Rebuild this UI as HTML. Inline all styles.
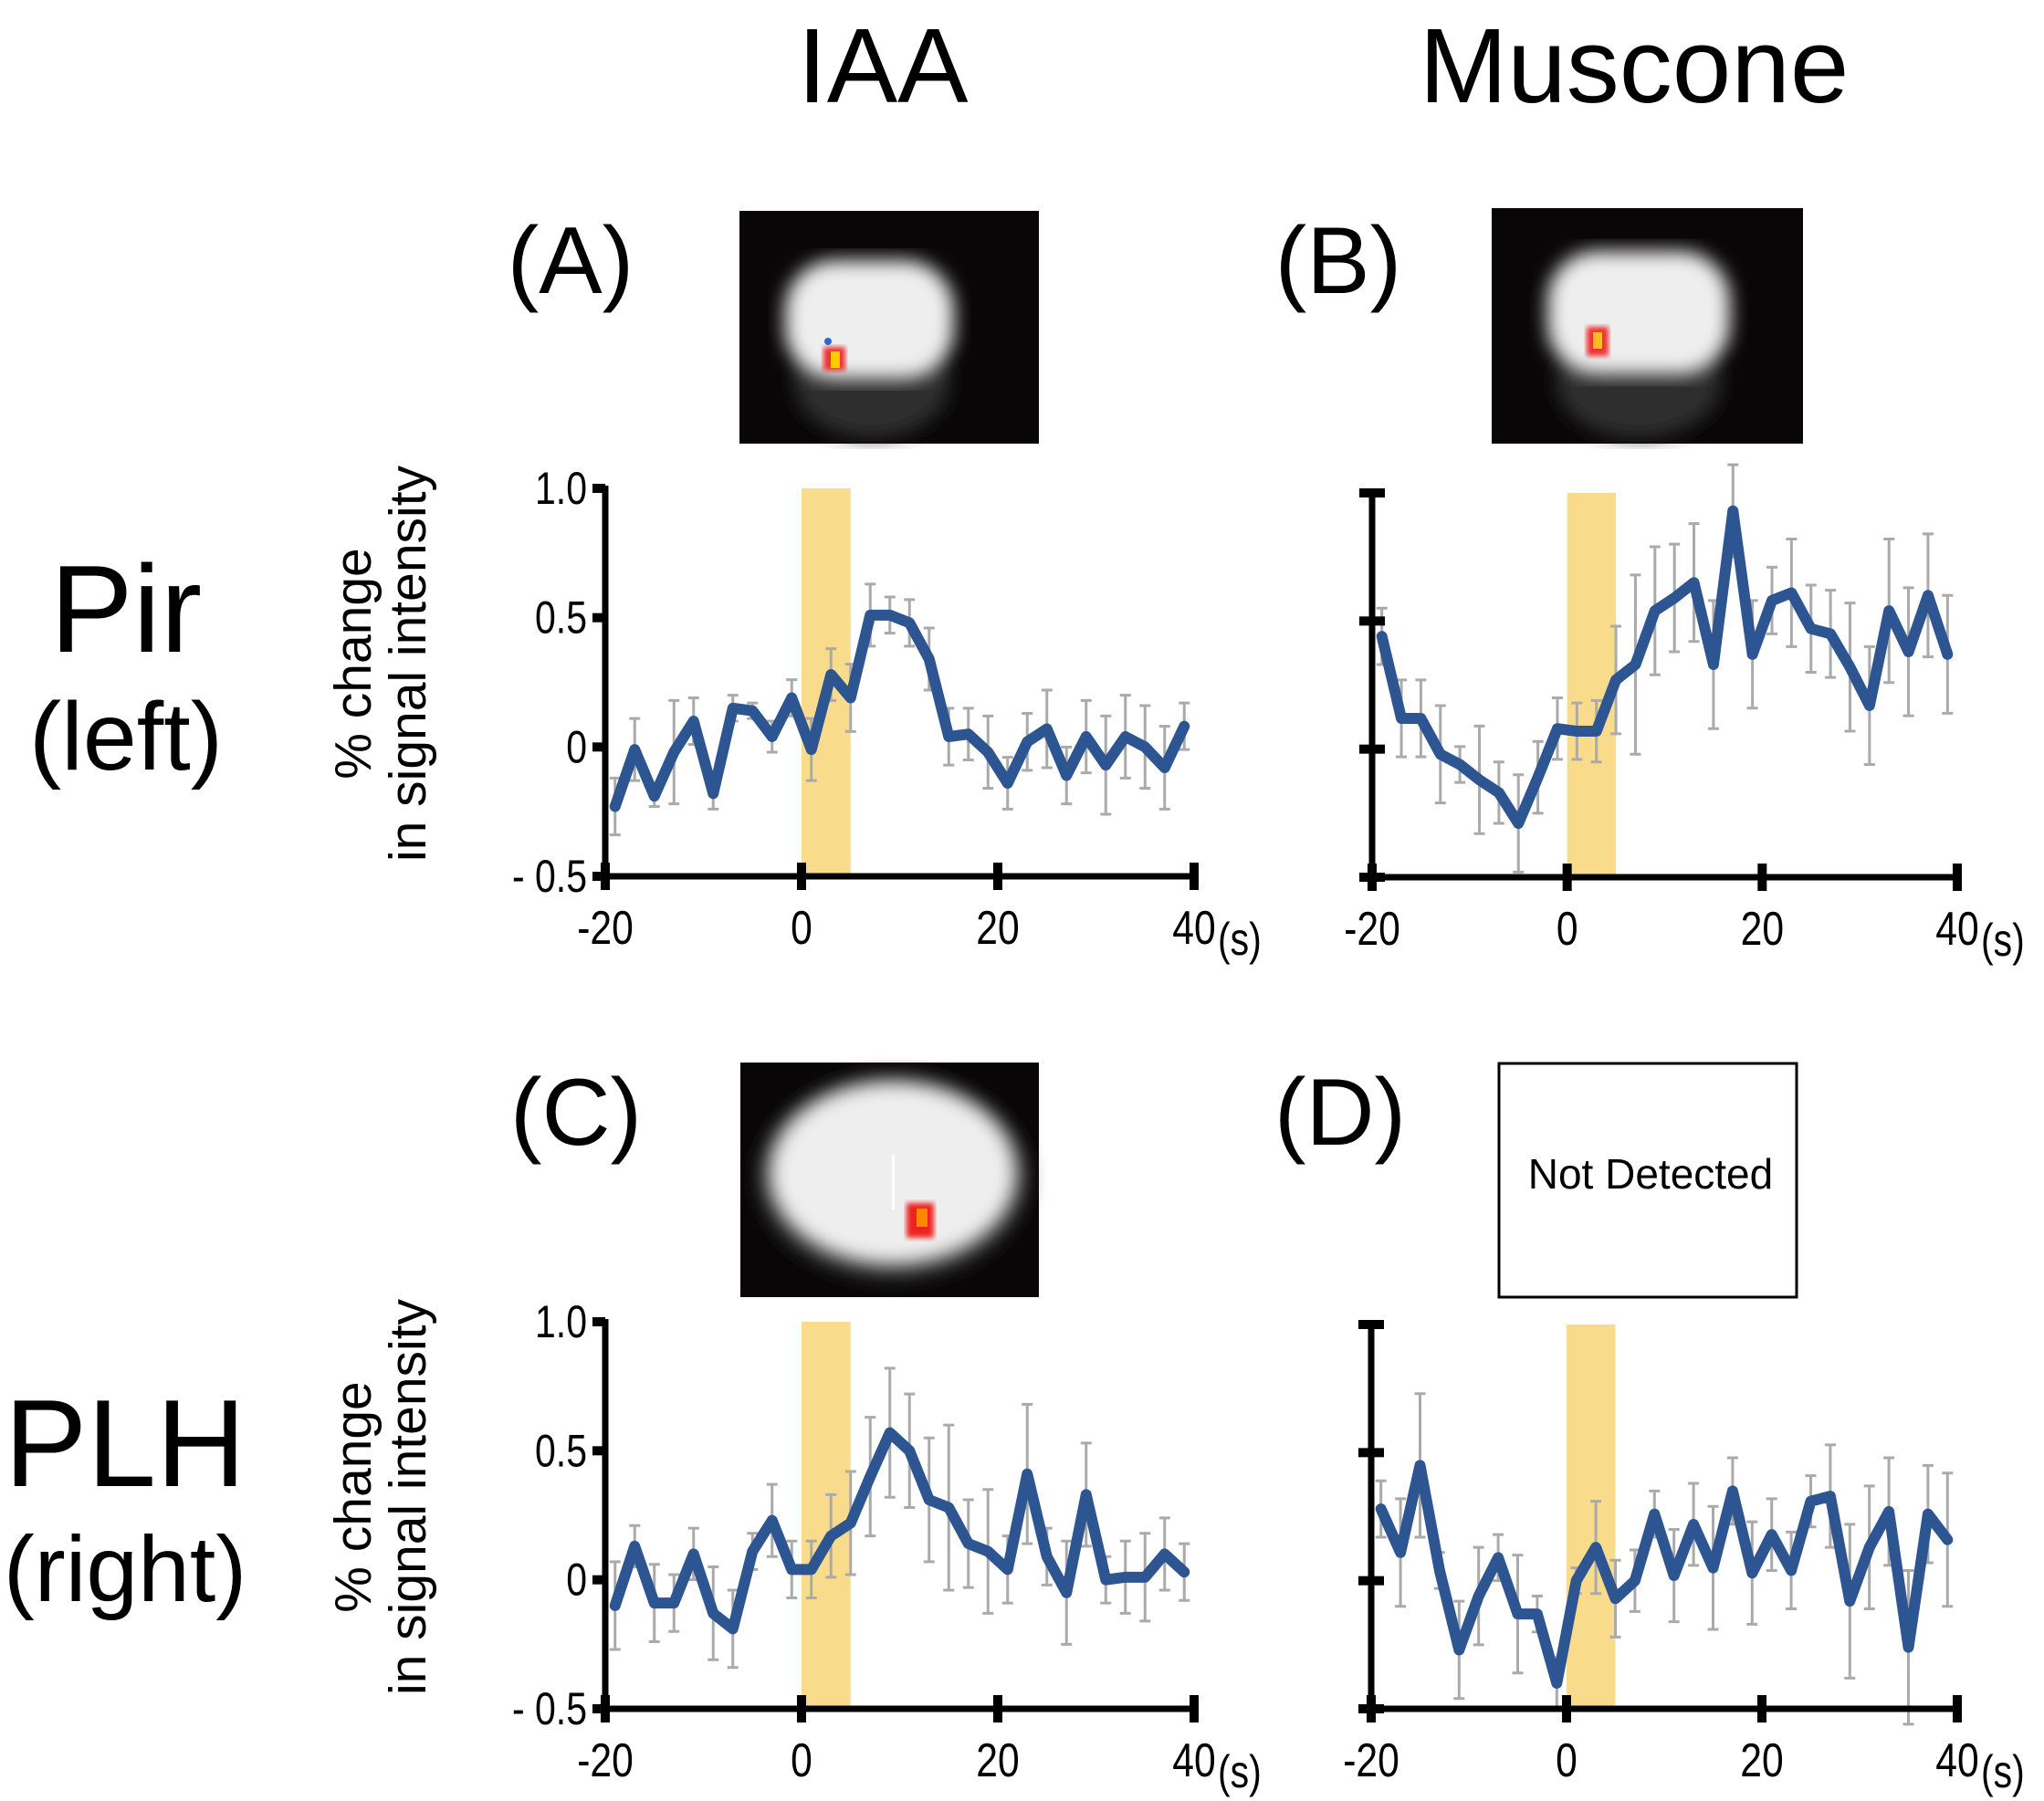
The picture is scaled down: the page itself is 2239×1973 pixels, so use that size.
<!DOCTYPE html>
<html><head><meta charset="utf-8"><style>
html,body{margin:0;padding:0;background:#fff}
svg{display:block}
text{font-family:"Liberation Sans",sans-serif;fill:#000}
</style></head><body>
<svg id="fig" width="2239" height="1973" viewBox="0 0 2239 1973" xmlns="http://www.w3.org/2000/svg">
<defs>
<filter id="blur8"><feGaussianBlur stdDeviation="10"/></filter>
<filter id="blur3"><feGaussianBlur stdDeviation="3"/></filter>
</defs>
<text x="967" y="112" font-size="116" text-anchor="middle">IAA</text>
<text x="1790" y="112" font-size="116" text-anchor="middle">Muscone</text>
<text x="138" y="714" font-size="136" text-anchor="middle">Pir</text>
<text x="138" y="843" font-size="106" text-anchor="middle">(left)</text>
<text x="137" y="1628" font-size="136" text-anchor="middle">PLH</text>
<text x="137" y="1754" font-size="102" text-anchor="middle">(right)</text>
<text x="625" y="321" font-size="104" text-anchor="middle">(A)</text>
<text x="1466" y="321" font-size="104" text-anchor="middle">(B)</text>
<text x="631" y="1254" font-size="104" text-anchor="middle">(C)</text>
<text x="1468" y="1254" font-size="104" text-anchor="middle">(D)</text>

<g>
<rect x="810" y="231" width="328" height="255" fill="#080606"/>
<ellipse cx="955" cy="420" rx="85" ry="60" fill="#2e2e2e" filter="url(#blur8)"/>
<rect x="860" y="285" width="185" height="130" rx="55" fill="#eeeeee" filter="url(#blur8)"/>
<rect x="902" y="380" width="24" height="26" fill="#e33" filter="url(#blur3)"/>
<rect x="910" y="385" width="10" height="18" fill="#fc0"/>
<circle cx="907" cy="374" r="4" fill="#36c"/>
</g>
<g>
<rect x="1634" y="228" width="341" height="258" fill="#080606"/>
<ellipse cx="1795" cy="420" rx="90" ry="60" fill="#2e2e2e" filter="url(#blur8)"/>
<rect x="1695" y="275" width="200" height="135" rx="55" fill="#eeeeee" filter="url(#blur8)"/>
<rect x="1738" y="358" width="24" height="32" fill="#e33" filter="url(#blur3)"/>
<rect x="1745" y="364" width="10" height="18" fill="#fb2"/>
</g>
<g>
<rect x="811" y="1164" width="327" height="257" fill="#080606"/>
<ellipse cx="978" cy="1290" rx="148" ry="112" fill="#303030" filter="url(#blur8)"/>
<ellipse cx="978" cy="1285" rx="135" ry="100" fill="#eeeeee" filter="url(#blur8)"/>
<rect x="977" y="1265" width="3" height="60" fill="#fff"/>
<rect x="993" y="1318" width="30" height="38" fill="#e22" filter="url(#blur3)"/>
<rect x="1004" y="1324" width="12" height="20" fill="#f80"/>
</g>
<g>
<rect x="1642" y="1165" width="326" height="256" fill="#fff" stroke="#000" stroke-width="3"/>
<text x="1808" y="1302" font-size="46" text-anchor="middle">Not Detected</text>
</g>
<g id="charts"></g>
</svg>
<script>
const times = [-19,-17,-15,-13,-11,-9,-7,-5,-3,-1,1,3,5,7,9,11,13,15,17,19,21,23,25,27,29,31,33,35,37,39];
const xTicks = [-20,0,20,40];
const yTicks = [-0.5,0,0.5,1.0];
const yTickLabels = ["- 0.5","0","0.5","1.0"];
const valsA = [-0.23,-0.01,-0.19,-0.02,0.10,-0.18,0.15,0.14,0.04,0.19,-0.01,0.28,0.19,0.51,0.51,0.48,0.34,0.04,0.05,-0.02,-0.14,0.02,0.07,-0.11,0.04,-0.07,0.04,0.00,-0.08,0.08];
const errA = [0.11,0.12,0.04,0.2,0.09,0.06,0.05,0.03,0.06,0.07,0.12,0.1,0.13,0.12,0.07,0.09,0.12,0.11,0.1,0.14,0.1,0.11,0.15,0.11,0.14,0.19,0.16,0.16,0.16,0.09];
const valsB = [0.44,0.12,0.12,-0.02,-0.06,-0.12,-0.17,-0.29,-0.11,0.08,0.07,0.07,0.27,0.33,0.54,0.59,0.65,0.33,0.93,0.37,0.58,0.61,0.47,0.45,0.32,0.17,0.54,0.38,0.60,0.37];
const errB = [0.11,0.15,0.15,0.19,0.07,0.21,0.12,0.19,0.14,0.12,0.11,0.12,0.21,0.35,0.25,0.21,0.23,0.25,0.18,0.21,0.13,0.21,0.17,0.17,0.25,0.23,0.28,0.25,0.24,0.23];
const valsC = [-0.10,0.13,-0.09,-0.09,0.10,-0.13,-0.19,0.11,0.23,0.04,0.04,0.17,0.22,0.40,0.57,0.50,0.31,0.28,0.14,0.11,0.04,0.41,0.09,-0.05,0.33,0.00,0.01,0.01,0.10,0.03];
const errC = [0.17,0.08,0.15,0.11,0.1,0.18,0.15,0.07,0.14,0.11,0.11,0.16,0.2,0.23,0.25,0.22,0.24,0.32,0.17,0.24,0.13,0.27,0.11,0.2,0.2,0.09,0.14,0.17,0.14,0.11];
const valsD = [0.28,0.11,0.45,0.04,-0.27,-0.06,0.09,-0.13,-0.13,-0.40,0.00,0.13,-0.07,0.00,0.26,0.02,0.22,0.05,0.35,0.03,0.18,0.04,0.31,0.33,-0.08,0.13,0.27,-0.26,0.26,0.16];
const errD = [0.11,0.21,0.28,0.07,0.19,0.19,0.09,0.23,0.07,0.1,0.05,0.18,0.15,0.12,0.09,0.18,0.16,0.24,0.13,0.2,0.14,0.15,0.1,0.2,0.3,0.24,0.21,0.3,0.19,0.26];
const stimStart = 0, stimEnd = 5;

const NS = "http://www.w3.org/2000/svg";
const root = document.getElementById('charts');
function mk(tag, attrs, parent){
  const e = document.createElementNS(NS, tag);
  for (const k in attrs) e.setAttribute(k, attrs[k]);
  parent.appendChild(e); return e;
}
function panel(key, x0, x1, yTop, yBot, vals, errs, showY, yLabelY){
  const g = mk('g', {}, root);
  
  
  const sx = t => x0 + (t - (-20)) * (x1 - x0) / 60;
  const sy = v => yBot - (v - (-0.5)) * (yBot - yTop) / 1.5;
  const band = mk('rect', {x: sx(stimStart), y: sy(1.0), width: sx(stimEnd) - sx(stimStart), height: sy(-0.5) - sy(1.0), fill: '#f8dc8c'}, g);
  
  
  times.forEach((t, i) => {
    const x = sx(t), hi = sy(vals[i] + errs[i]), lo = sy(vals[i] - errs[i]);
    const eb = mk('path', {d: `M${x},${hi}V${lo}M${x-6},${hi}H${x+6}M${x-6},${lo}H${x+6}`, stroke: '#aaaaaa', 'stroke-width': 3, fill: 'none'}, g);
    
    
  });
  const ax = mk('path', {d: `M${x0},${sy(1.0)-3}V${sy(-0.5)}H${x1}`, stroke: '#000', 'stroke-width': 7, fill: 'none'}, g);
  
  
  yTicks.forEach((v, i) => {
    const y = sy(v);
    const tk = mk('rect', {x: x0 - 14, y: y - 5, width: showY ? 14 : 28, height: 10, fill: '#000'}, g);
    
    
    if (showY) {
      const tl = mk('text', {transform: `translate(${x0 - 20},${y + 17}) scale(0.82,1)`, 'font-size': 50, 'text-anchor': 'end'}, g);
      tl.textContent = yTickLabels[i];
      
      
    }
  });
  xTicks.forEach(t => {
    const x = sx(t);
    const tk = mk('rect', {x: x - 5, y: sy(-0.5) - 15, width: 10, height: 30, fill: '#000'}, g);
    
    
    const tl = mk('text', {transform: `translate(${x},${sy(-0.5) + 74}) scale(0.82,1)`, 'font-size': 52, 'text-anchor': 'middle'}, g);
    tl.textContent = String(t);
    
    
  });
  const u = mk('text', {transform: `translate(${sx(40) + 26},${sy(-0.5) + 86}) scale(0.82,1)`, 'font-size': 50}, g);
  u.textContent = '(s)';
  
  
  const pts = times.map((t, i) => sx(t) + ',' + sy(vals[i])).join(' ');
  const ln = mk('polyline', {points: pts, fill: 'none', stroke: '#2d5592', 'stroke-width': 12, 'stroke-linejoin': 'round', 'stroke-linecap': 'round'}, g);
  
  
  if (showY) {
    const yl = mk('text', {transform: `translate(406,${yLabelY}) rotate(-90)`, 'font-size': 57, 'text-anchor': 'middle'}, g);
    const t1 = mk('tspan', {x: 0, y: 0}, yl); t1.textContent = '% change';
    const t2 = mk('tspan', {x: 0, dy: 60}, yl); t2.textContent = 'in signal intensity';
    
    
  }
}
panel('a', 663, 1308, 535, 960, valsA, errA, true, 727);
panel('b', 1503, 2144, 540, 961, valsB, errB, false, 0);
panel('c', 663, 1308, 1448, 1872, valsC, errC, true, 1640);
panel('d', 1502, 2144, 1451, 1872, valsD, errD, false, 0);
</script>
</body></html>
